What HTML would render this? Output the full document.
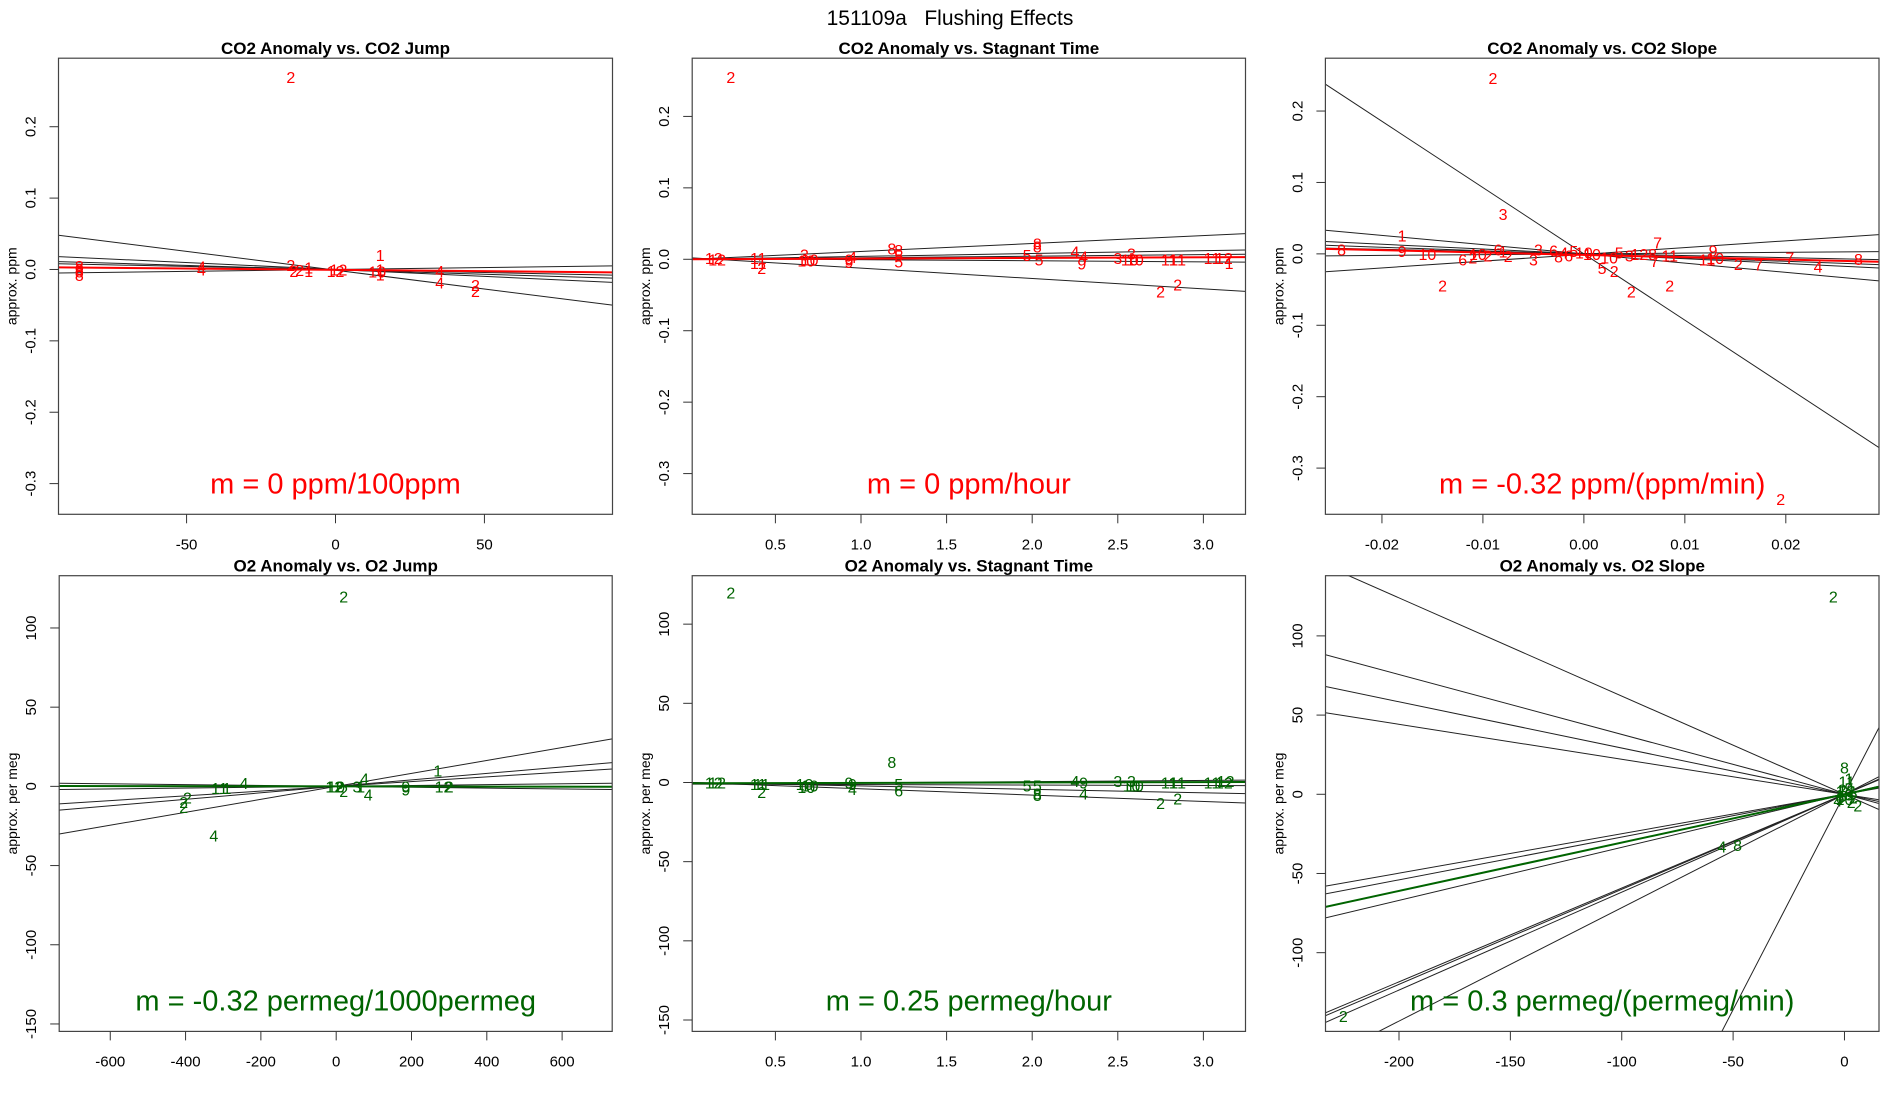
<!DOCTYPE html>
<html><head><meta charset="utf-8"><style>
html,body{margin:0;padding:0;background:#fff;width:1900px;height:1100px;overflow:hidden;}
svg{display:block;font-family:"Liberation Sans",Arial,sans-serif;}
</style></head><body>
<svg id="chart" width="1900" height="1100" viewBox="0 0 1900 1100" xmlns="http://www.w3.org/2000/svg">
<rect width="1900" height="1100" fill="#fff"/>
<text x="950" y="25" font-size="21" text-anchor="middle" xml:space="preserve">151109a   Flushing Effects</text>
</svg>
<script>
// ---- Panel 1: CO2 Anomaly vs CO2 Jump ----
const p1X = [-15,-86,-86,-86,-86,-45,-45,-15,-14,-9,-9,-12,0,1,15,14,15,15,35,35,47,47];
const p1Y = [0.27,0.005,0.001,-0.003,-0.008,0.004,0.0,0.006,-0.002,0.003,-0.002,-0.001,-0.002,0.0,0.02,-0.003,-0.007,0.0,-0.002,-0.018,-0.022,-0.03];
const p1Lab = ["2","8","8","8","8","4","4","2","2","1","1","2","12","12","1","10","1","1","4","4","2","2"];
const p1Slopes = [-0.000527,-0.000194,-0.000124,0.0000538,-0.000086];
const p1Ints = [-0.001,0,-0.0005,0,0];
const p1Fit = [-0.0000376,-0.0005];
// ---- Panel 2: CO2 Anomaly vs Stagnant Time ----
const p2X = [0.24,0.14,0.16,0.4,0.4,0.42,0.67,0.68,0.7,0.93,0.95,0.93,1.18,1.22,1.22,1.22,2.03,2.03,1.97,2.04,2.25,2.3,2.29,2.5,2.58,2.57,2.6,2.8,2.85,2.75,2.85,3.05,3.12,3.15];
const p2Y = [0.255,0.002,0.0,0.002,-0.005,-0.012,0.007,-0.002,0.0,0.0,0.003,-0.004,0.015,0.013,0.005,-0.003,0.022,0.018,0.006,0.0,0.011,0.004,-0.006,0.002,0.008,0.0,0.0,0.0,0.0,-0.045,-0.035,0.002,0.002,-0.005];
const p2Lab = ["2","12","12","11","11","2","3","10","10","9","4","9","8","8","5","5","8","8","5","5","4","4","9","3","3","10","10","11","11","2","2","11","12","1"];
const p2Slopes = [0.01114,0.00402,0.00217,-0.00155,-0.01454];
const p2Ints = [-0.00016,0,0,0.001,0.0022];
const p2Fit = [0.00093,0];
// ---- Panel 3: CO2 Anomaly vs CO2 Slope ----
const p3X = [-0.009,-0.008,-0.018,-0.024,-0.018,-0.0155,-0.012,-0.011,-0.0105,-0.0095,-0.0085,-0.008,-0.0075,-0.014,-0.005,-0.0045,-0.003,-0.0025,-0.002,-0.0015,-0.001,0.0,0.0008,0.0018,0.003,0.0025,0.0047,0.0035,0.0045,0.0055,0.0073,0.007,0.0068,0.0085,0.0085,0.0128,0.0122,0.013,0.0153,0.0173,0.0204,0.0232,0.0272,0.0195];
const p3Y = [0.246,0.056,0.026,0.006,0.004,0.0,-0.008,-0.005,0.0,-0.002,0.006,0.003,-0.003,-0.044,-0.008,0.006,0.005,-0.004,0.002,-0.002,0.004,0.002,0.0,-0.02,-0.024,-0.005,-0.053,0.002,-0.002,0.0,0.016,-0.01,0.0,-0.002,-0.044,0.005,-0.008,-0.006,-0.014,-0.015,-0.005,-0.018,-0.007,-0.343];
const p3Lab = ["2","3","1","8","9","10","6","2","10","2","6","1","2","2","3","3","6","8","4","6","5","10","10","5","2","10","2","5","3","12","7","7","8","11","2","9","11","10","2","7","7","4","8","2"];
const p3Slopes = [-9.283,-1.295,0.948,-0.675,-0.492,-0.292,0.109];
const p3Ints = [0,0,-0.0007,0,-0.0006,0.0005,0];
const p3Fit = [-0.328,-0.0014];
// ---- Panel 4: O2 Anomaly vs O2 Jump ----
const p4X = [20,270,75,85,-245,-310,-290,-395,-405,-405,-325,-5,0,10,20,55,65,185,185,285,300];
const p4Y = [120,10,5,-5,2,-1,-1,-7,-10,-13,-31,0,0,0,-3,0,0,0,-2,0,0];
const p4Lab = ["2","1","4","4","4","11","1","2","2","2","4","12","10","2","2","3","1","9","9","12","2"];
const p4Slopes = [0.04087,0.02044,0.01499,-0.002725,0.002725];
const p4Ints = [0,0,0,0,0];
const p4Fit = [-0.00032,0];
// ---- Panel 5: O2 Anomaly vs Stagnant Time ----
const p5X = [0.24,1.18,0.14,0.16,0.4,0.42,0.42,0.67,0.7,0.68,0.93,0.95,0.95,1.22,1.22,1.97,2.03,2.03,2.03,2.25,2.3,2.3,2.5,2.58,2.58,2.6,2.8,2.85,2.75,2.85,3.05,3.12,3.13];
const p5Y = [120,13,0,0,-1,-1,-6,-1,-2,-3,0,-1,-4,-1,-5,-2,-2,-7,-8,1,0,-7,1,1,-2,-2,0,0,-13,-10,0,0,1];
const p5Lab = ["2","8","12","12","11","11","2","10","10","10","9","9","4","5","6","5","5","8","8","4","9","4","3","3","10","10","11","11","2","2","11","12","12"];
const p5Slopes = [-4.02,-2.17,-0.31,0.77];
const p5Ints = [0.06,0,-1,-1];
const p5Fit = [0.25,-0.5];
// ---- Panel 6: O2 Anomaly vs O2 Slope ----
const p6X = [-5,-225,-55,-48,0,-2,-1,0,1,2,3,-3,-1,2,4,1,2,6,-2,0];
const p6Y = [125,-140,-33,-32,17,-2,3,0,2,0,-5,-4,-1,4,-2,8,10,-7,2,-3];
const p6Lab = ["2","2","4","8","8","6","2","10","12","3","2","4","5","9","2","11","1","2","1","10"];
const p6Slopes = [-0.62,-0.378,-0.292,-0.221,0.249,0.27,0.335,0.592,0.60,0.618,0.716,2.72];
const p6Ints = [0,0,0,0,0,0,0,0,0,0,0,0];
const p6Fit = [0.305,0];

const NS = "http://www.w3.org/2000/svg";
const svg = document.getElementById("chart");
function mk(tag, attrs, parent) {
  const e = document.createElementNS(NS, tag);
  for (const k in attrs) e.setAttribute(k, attrs[k]);
  (parent || svg).appendChild(e);
  return e;
}

const panels = [
  {id:"co2-jump", title:"CO2 Anomaly vs. CO2 Jump", L:58.5, R:612.5, T:58.2, B:514.3, x0:-93, x1:93, y0:-0.343, y1:0.296,
   xt:[-50,0,50], xtl:["-50","0","50"], yt:[-0.3,-0.2,-0.1,0,0.1,0.2], ytl:["-0.3","-0.2","-0.1","0.0","0.1","0.2"],
   ylab:"approx. ppm", col:"#ff0000", m:"m = 0 ppm/100ppm", X:p1X, Y:p1Y, Lab:p1Lab, S:p1Slopes, I:p1Ints, F:p1Fit},
  {id:"co2-stagnant", title:"CO2 Anomaly vs. Stagnant Time", L:692.2, R:1245.5, T:58.2, B:514.3, x0:0.014, x1:3.246, y0:-0.357, y1:0.2815,
   xt:[0.5,1,1.5,2,2.5,3], xtl:["0.5","1.0","1.5","2.0","2.5","3.0"], yt:[-0.3,-0.2,-0.1,0,0.1,0.2], ytl:["-0.3","-0.2","-0.1","0.0","0.1","0.2"],
   ylab:"approx. ppm", col:"#ff0000", m:"m = 0 ppm/hour", X:p2X, Y:p2Y, Lab:p2Lab, S:p2Slopes, I:p2Ints, F:p2Fit},
  {id:"co2-slope", title:"CO2 Anomaly vs. CO2 Slope", L:1325.4, R:1879, T:58.2, B:514.3, x0:-0.0256, x1:0.02923, y0:-0.3647, y1:0.274,
   xt:[-0.02,-0.01,0,0.01,0.02], xtl:["-0.02","-0.01","0.00","0.01","0.02"], yt:[-0.3,-0.2,-0.1,0,0.1,0.2], ytl:["-0.3","-0.2","-0.1","0.0","0.1","0.2"],
   ylab:"approx. ppm", col:"#ff0000", m:"m = -0.32 ppm/(ppm/min)", X:p3X, Y:p3Y, Lab:p3Lab, S:p3Slopes, I:p3Ints, F:p3Fit},
  {id:"o2-jump", title:"O2 Anomaly vs. O2 Jump", L:59.2, R:612.2, T:575.7, B:1031.4, x0:-735.6, x1:733, y0:-154.7, y1:133,
   xt:[-600,-400,-200,0,200,400,600], xtl:["-600","-400","-200","0","200","400","600"], yt:[-150,-100,-50,0,50,100], ytl:["-150","-100","-50","0","50","100"],
   ylab:"approx. per meg", col:"#006400", m:"m = -0.32 permeg/1000permeg", X:p4X, Y:p4Y, Lab:p4Lab, S:p4Slopes, I:p4Ints, F:p4Fit},
  {id:"o2-stagnant", title:"O2 Anomaly vs. Stagnant Time", L:692.2, R:1245.5, T:575.7, B:1031.4, x0:0.014, x1:3.246, y0:-157.2, y1:130.6,
   xt:[0.5,1,1.5,2,2.5,3], xtl:["0.5","1.0","1.5","2.0","2.5","3.0"], yt:[-150,-100,-50,0,50,100], ytl:["-150","-100","-50","0","50","100"],
   ylab:"approx. per meg", col:"#006400", m:"m = 0.25 permeg/hour", X:p5X, Y:p5Y, Lab:p5Lab, S:p5Slopes, I:p5Ints, F:p5Fit},
  {id:"o2-slope", title:"O2 Anomaly vs. O2 Slope", L:1325.5, R:1879, T:575.7, B:1031.4, x0:-233, x1:15.5, y0:-149.7, y1:138,
   xt:[-200,-150,-100,-50,0], xtl:["-200","-150","-100","-50","0"], yt:[-100,-50,0,50,100], ytl:["-100","-50","0","50","100"],
   ylab:"approx. per meg", col:"#006400", m:"m = 0.3 permeg/(permeg/min)", X:p6X, Y:p6Y, Lab:p6Lab, S:p6Slopes, I:p6Ints, F:p6Fit}
];

const defs = mk("defs", {});
panels.forEach((p, pi) => {
  const sx = v => p.L + (v - p.x0) / (p.x1 - p.x0) * (p.R - p.L);
  const sy = v => p.B - (v - p.y0) / (p.y1 - p.y0) * (p.B - p.T);
  const g = mk("g", {});
  
  
  const cp = mk("clipPath", {id: "clip" + pi}, defs);
  mk("rect", {x: p.L, y: p.T, width: p.R - p.L, height: p.B - p.T}, cp);

  const t = mk("text", {x: (p.L + p.R) / 2, y: p.T - 4, "font-size": 17, "font-weight": "bold", "text-anchor": "middle"}, g);
  t.textContent = p.title;
  
  

  const lg = mk("g", {"clip-path": "url(#clip" + pi + ")"}, g);
  p.S.forEach((m, i) => {
    const b = p.I[i];
    const ln = mk("line", {x1: sx(p.x0), y1: sy(m * p.x0 + b), x2: sx(p.x1), y2: sy(m * p.x1 + b), stroke: "#222", "stroke-width": 1}, lg);
    
    
  });
  p.X.forEach((x, i) => {
    const tx = mk("text", {x: sx(x), y: sy(p.Y[i]) + 6, "font-size": 16, fill: p.col, "text-anchor": "middle"}, lg);
    tx.textContent = p.Lab[i];
    
    
  });
  const fl = mk("line", {x1: sx(p.x0), y1: sy(p.F[0] * p.x0 + p.F[1]), x2: sx(p.x1), y2: sy(p.F[0] * p.x1 + p.F[1]), stroke: p.col, "stroke-width": 2}, lg);
  
  

  const bx = mk("rect", {x: p.L, y: p.T, width: p.R - p.L, height: p.B - p.T, fill: "none", stroke: "#444", "stroke-width": 1.2}, g);
  
  

  p.xt.forEach((v, i) => {
    const X = sx(v);
    mk("line", {x1: X, y1: p.B, x2: X, y2: p.B + 9, stroke: "#333"}, g);
    const lt = mk("text", {x: X, y: p.B + 35, "font-size": 15, "text-anchor": "middle"}, g);
    lt.textContent = p.xtl[i];
    
    
  });
  p.yt.forEach((v, i) => {
    const Y = sy(v);
    mk("line", {x1: p.L - 9, y1: Y, x2: p.L, y2: Y, stroke: "#333"}, g);
    const xx = p.L - 23;
    const lt = mk("text", {x: xx, y: Y, "font-size": 15, "text-anchor": "middle", transform: "rotate(-90 " + xx + " " + Y + ")"}, g);
    lt.textContent = p.ytl[i];
    
    
  });
  const yx = p.L - 42, yy = (p.T + p.B) / 2;
  const yl = mk("text", {x: yx, y: yy, "font-size": 14, "text-anchor": "middle", transform: "rotate(-90 " + yx + " " + yy + ")"}, g);
  yl.textContent = p.ylab;
  
  

  const mt = mk("text", {x: (p.L + p.R) / 2, y: p.B - 21, "font-size": 29, fill: p.col, "text-anchor": "middle"}, g);
  mt.textContent = p.m;
  
  
});
</script>
</body></html>
